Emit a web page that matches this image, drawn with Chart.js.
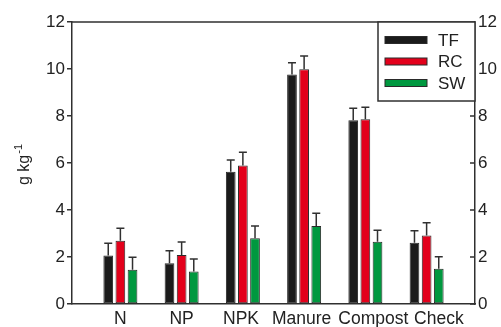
<!DOCTYPE html>
<html>
<head>
<meta charset="utf-8">
<script src="https://cdn.jsdelivr.net/npm/chart.js@4.4.1/dist/chart.umd.min.js"></script>
<style>
  html, body { margin: 0; padding: 0; background: #fff; }
  canvas { display: block; }
</style>
</head>
<body>
<canvas id="chart" width="501" height="327"></canvas>
<script>
// Treatments on the x axis
const categories = ['N', 'NP', 'NPK', 'Manure', 'Compost', 'Check'];
// Series names
const seriesNames = ['TF', 'RC', 'SW'];
// Mean values (g kg-1)
const tfValues = [2.06, 1.73, 5.63, 9.77, 7.82, 2.61];
const rcValues = [2.69, 2.09, 5.89, 9.99, 7.86, 2.92];
const swValues = [1.46, 1.38, 2.80, 3.32, 2.65, 1.50];
// Upper error bar lengths
const tfErrors = [0.52, 0.54, 0.50, 0.50, 0.51, 0.51];
const rcErrors = [0.53, 0.55, 0.57, 0.56, 0.51, 0.54];
const swErrors = [0.53, 0.53, 0.52, 0.54, 0.49, 0.51];
// Y axis tick values
const yTicks = [0, 2, 4, 6, 8, 10, 12];

const FONT = '"Liberation Sans", Arial, sans-serif';
const INK = '#222222';
const LINE = '#303030';
const fills = ['#1b1b1b', '#e3001b', '#00983f'];
// small sideways nudges (in category units) so the long labels do not collide
const labelNudge = [0, 0, -0.03, -0.04, 0.13, 0.2];

const valueSets = [tfValues, rcValues, swValues];
const errorSets = [tfErrors, rcErrors, swErrors];

const datasets = seriesNames.map((name, s) => ({
  label: name,
  data: valueSets[s].map((v, i) => ({ x: i, y: v })),
  errors: errorSets[s],
  backgroundColor: fills[s],
  borderColor: '#2a2a2a',
  borderWidth: 1,
  borderSkipped: false,
  categoryPercentage: 0.613,
  barPercentage: 0.8
}));

// Upper error whiskers with caps
const errorBars = {
  id: 'errorBars',
  afterDatasetsDraw(chart) {
    const ctx = chart.ctx;
    const y = chart.scales.y;
    ctx.save();
    ctx.strokeStyle = LINE;
    ctx.lineWidth = 1.5;
    chart.data.datasets.forEach((ds, di) => {
      const meta = chart.getDatasetMeta(di);
      meta.data.forEach((bar, i) => {
        const top = y.getPixelForValue(ds.data[i].y + ds.errors[i]);
        ctx.beginPath();
        ctx.moveTo(bar.x, bar.y);
        ctx.lineTo(bar.x, top);
        ctx.moveTo(bar.x - 4, top);
        ctx.lineTo(bar.x + 4, top);
        ctx.stroke();
      });
    });
    ctx.restore();
  }
};

// Top frame line, inward ticks on the right axis, legend box and y title
const decorations = {
  id: 'decorations',
  afterDraw(chart) {
    const ctx = chart.ctx;
    const a = chart.chartArea;
    const y = chart.scales.y;
    ctx.save();
    ctx.strokeStyle = LINE;
    ctx.lineWidth = 1.5;
    ctx.beginPath();
    ctx.moveTo(a.left, a.top);
    ctx.lineTo(a.right, a.top);
    yTicks.forEach(v => {
      const py = y.getPixelForValue(v);
      ctx.moveTo(a.right - 5, py);
      ctx.lineTo(a.right, py);
    });
    ctx.stroke();

    // legend
    const bx = 378, by = a.top, bw = a.right - bx, bh = 79;
    ctx.fillStyle = '#ffffff';
    ctx.fillRect(bx, by, bw, bh);
    ctx.strokeRect(bx, by, bw, bh);
    ctx.font = '17px ' + FONT;
    ctx.textBaseline = 'middle';
    ctx.textAlign = 'left';
    seriesNames.forEach((name, s) => {
      const cy = by + 18 + s * 21.5;
      ctx.fillStyle = fills[s];
      ctx.fillRect(385, cy - 3.5, 42, 7);
      ctx.lineWidth = 1;
      ctx.strokeStyle = '#2a2a2a';
      ctx.strokeRect(385, cy - 3.5, 42, 7);
      ctx.fillStyle = INK;
      ctx.fillText(name, 438, cy + 1);
    });

    // y axis title with superscript
    ctx.translate(29, 185);
    ctx.rotate(-Math.PI / 2);
    ctx.fillStyle = INK;
    ctx.textBaseline = 'alphabetic';
    ctx.font = '16px ' + FONT;
    const main = 'g kg';
    ctx.fillText(main, 0, 0);
    const w = ctx.measureText(main).width;
    ctx.font = '11px ' + FONT;
    ctx.fillText('-1', w + 1, -7);
    ctx.restore();
  }
};

new Chart(document.getElementById('chart'), {
  type: 'bar',
  data: { datasets },
  plugins: [errorBars, decorations],
  options: {
    responsive: false,
    animation: false,
    layout: { padding: { top: 22, left: 0, right: 0, bottom: 0 } },
    plugins: { legend: { display: false }, tooltip: { enabled: false } },
    scales: {
      x: {
        type: 'linear',
        min: -0.79,
        max: 5.79,
        offset: false,
        afterBuildTicks: s => { s.ticks = categories.map((c, i) => ({ value: i + labelNudge[i] })); },
        afterFit: s => { s.height = 23; },
        grid: { display: false, drawTicks: false },
        border: { display: true, color: LINE, width: 1.5 },
        ticks: {
          callback: (v, i) => categories[i],
          font: { family: FONT, size: 17.5 },
          color: INK,
          padding: 5,
          maxRotation: 0,
          autoSkip: false
        }
      },
      y: {
        position: 'left',
        min: 0,
        max: 12,
        afterBuildTicks: s => { s.ticks = yTicks.map(v => ({ value: v })); },
        afterFit: s => { s.width = 72; },
        grid: { drawOnChartArea: false, drawTicks: true, tickLength: 5, color: LINE, lineWidth: 1.5 },
        border: { display: true, color: LINE, width: 1.5 },
        ticks: { font: { family: FONT, size: 17 }, color: INK, padding: 2 }
      },
      y2: {
        position: 'right',
        min: 0,
        max: 12,
        afterBuildTicks: s => { s.ticks = yTicks.map(v => ({ value: v })); },
        afterFit: s => { s.width = 26; },
        grid: { display: false, drawTicks: false },
        border: { display: true, color: LINE, width: 1.5 },
        ticks: { font: { family: FONT, size: 17 }, color: INK, padding: 3 }
      }
    }
  }
});
</script>
</body>
</html>
